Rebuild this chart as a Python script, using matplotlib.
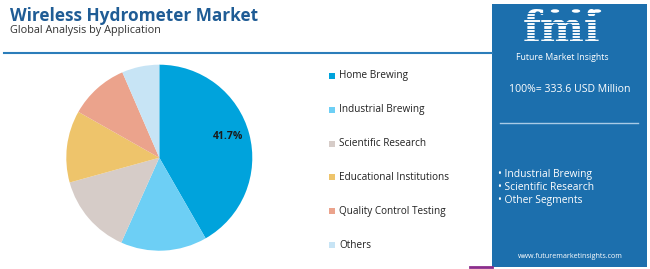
import numpy as np
import matplotlib.pyplot as plt
from matplotlib.patches import Rectangle, Circle
from matplotlib.lines import Line2D

plt.rcParams['font.family'] = ['Open Sans', 'DejaVu Sans']

# data
segments = ['Home Brewing', 'Industrial Brewing', 'Scientific Research',
            'Educational Institutions', 'Quality Control Testing', 'Others']
shares = [41.7, 15.0, 14.0, 12.5, 10.3, 6.5]
colors = ['#00A3DC', '#6DCFF5', '#D6CCC8', '#EEC46B', '#EBA38C', '#C7E4F5']
panel_items = ['Industrial Brewing', 'Scientific Research', 'Other Segments']
total_text = '100%= 333.6 USD Million'

W, H = 650, 269
fig = plt.figure(figsize=(W / 100, H / 100), dpi=100)

def fx(x):
    return x / W

def fy(y):
    return 1 - y / H

# title block
fig.text(fx(10), fy(16), 'Wireless Hydrometer Market', fontsize=12.4, fontweight='bold',
         color='#1F5C95', va='center', ha='left')
fig.text(fx(10), fy(31), 'Global Analysis by Application', fontsize=7.8, color='#333333',
         va='center', ha='left')
fig.add_artist(Line2D([fx(4), fx(492)], [fy(53), fy(53)], color='#2B7DBA', lw=1.5))

# pie
cx, cy, r = 159.3, 157.7, 93
ax = fig.add_axes([fx(cx - r), fy(cy + r), 2 * r / W, 2 * r / H])
ax.pie(shares, colors=colors, startangle=90, counterclock=False, radius=1,
       wedgeprops=dict(linewidth=0))
ax.set_xlim(-1, 1)
ax.set_ylim(-1, 1)
ax.text(0.74, 0.225, f'{shares[0]}%', fontsize=7.5, fontweight='bold', ha='center', va='center',
        color='#1A1A1A')

# legend
leg_y = [75.7, 109.7, 143.7, 177.3, 211.3, 245]
for name, c, y in zip(segments, colors, leg_y):
    fig.add_artist(Rectangle((fx(329), fy(y + 3)), 6 / W, 6 / H, color=c, lw=0))
    fig.text(fx(339), fy(y), name, fontsize=7.2, color='#222222', va='center', ha='left')

# right panel
panel = '#1C6FAD'
fig.add_artist(Rectangle((fx(492), fy(266.5)), 155 / W, 262.5 / H, color=panel, lw=0))
fig.add_artist(Line2D([fx(470), fx(492)], [fy(266.5), fy(266.5)], color='#8B2D8C', lw=2))

# logo
fig.text(fx(562), fy(51), 'fmi', fontsize=30, fontweight='bold', family='DejaVu Serif',
         color='white', ha='center', va='bottom')
for y in np.arange(13, 42, 3.1):
    fig.add_artist(Line2D([fx(508), fx(616)], [fy(y), fy(y)], color=panel, lw=0.8, zorder=4))
for x in [555, 576, 597]:
    fig.add_artist(Circle((fx(x), fy(11)), 4.2 / W, color='white', lw=0, zorder=5,
                          transform=fig.transFigure))
fig.text(fx(562), fy(57), 'Future Market Insights', fontsize=6.3, color='white',
         ha='center', va='center')

fig.text(fx(570), fy(90), total_text, fontsize=7.6, color='white', ha='center', va='center')
fig.add_artist(Line2D([fx(500), fx(638)], [fy(123), fy(123)], color='#A9CBE6', lw=1))
for i, item in enumerate(panel_items):
    fig.text(fx(498), fy(174 + 13.5 * i), '\u2022 ' + item, fontsize=7.4, color='white',
             ha='left', va='center')
fig.text(fx(570), fy(257), 'www.futuremarketinsights.com', fontsize=5.1, color='white',
         ha='center', va='center')

fig.savefig('out.png', dpi=100)
